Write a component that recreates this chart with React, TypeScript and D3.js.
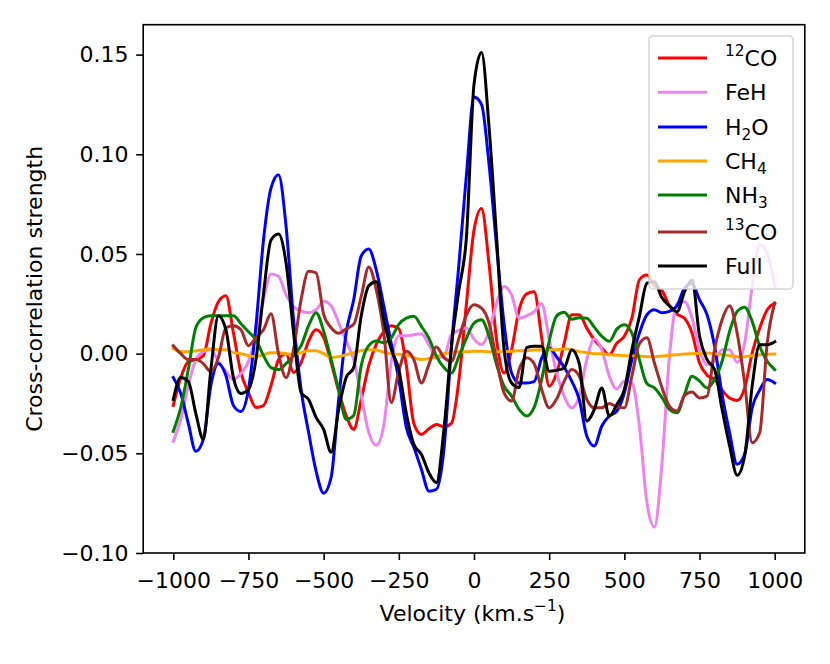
import * as d3 from 'd3';
import { useEffect, useRef } from 'react';

// velocity grid (km/s)
const velocity = [
  -1000, -975, -950, -925, -900, -875, -850, -825, -800, -775,
  -750, -725, -700, -675, -650, -625, -600, -575, -550, -525,
  -500, -475, -450, -425, -400, -375, -350, -325, -300, -275,
  -250, -225, -200, -175, -150, -125, -100, -75, -50, -25,
  0, 25, 50, 75, 100, 125, 150, 175, 200, 225,
  250, 275, 300, 325, 350, 375, 400, 425, 450, 475,
  500, 525, 550, 575, 600, 625, 650, 675, 700, 725,
  750, 775, 800, 825, 850, 875, 900, 925, 950, 975,
  1000,
];

const co12 = [
  -0.026, -0.012, -0.004, -0.003, -0.001, 0.015, 0.026, 0.029, 0.0105, -0.0095,
  -0.0195, -0.027, -0.026, -0.016, -0.003, 0, -0.0095, -0.0045, 0.0063, 0.012,
  0.008, -0.0045, -0.0187, -0.031, -0.038, -0.023, -0.006, 0.0047, 0.011, 0.014,
  0.0125, -0.006, -0.035, -0.0405, -0.0377, -0.0355, -0.0367, -0.035, -0.013, 0.0253,
  0.062, 0.0728, 0.045, 0.007, -0.0097, 0.002, 0.022, 0.03, 0.031, 0.008,
  -0.0163, -0.0097, 0.0053, 0.0195, 0.0195, 0.0128, 0.007, 0.0028, -0.0005, 0.0053,
  0.0087, 0.0178, 0.037, 0.0394, 0.034, 0.0317, 0.024, 0.0198, 0.0177, 0.0103,
  -0.0047, -0.0108, -0.013, -0.0183, -0.0223, -0.0235, -0.0172, 0.0003, 0.0128, 0.022,
  0.0253,
];

const feh = [
  -0.044, -0.033, -0.016, -0.003, 0.001, 0.002, -0.004, -0.009, -0.013, -0.01,
  -0.004, 0.009, 0.027, 0.04, 0.0388, 0.0295, 0.0237, 0.0213, 0.0205, 0.022,
  0.0263, 0.024, 0.0155, 0.0063, -0.003, -0.021, -0.0395, -0.046, -0.036, -0.004,
  0.009, 0.009, 0.0095, 0.01, 0.0045, -0.002, -0.0013, 0.0095, 0.0117, 0.0128,
  0.0073, 0.0045, 0.011, 0.0253, 0.0337, 0.0295, 0.0178, 0.019, 0.021, 0.025,
  0.0073, -0.0097, -0.0213, -0.0272, -0.0213, -0.003, 0.0073, 0.002, -0.0113, -0.0177,
  -0.0138, -0.0147, -0.0363, -0.0747, -0.087, -0.055, -0.0013, 0.025, 0.026, 0.0178,
  0.002, -0.0055, -0.0038, 0.002, 0.002, -0.0043, 0.0053, 0.0337, 0.0545, 0.0503,
  0.0337,
];

const h2o = [
  -0.012, -0.02, -0.035, -0.049, -0.043, -0.016, -0.005, -0.011, -0.026, -0.029,
  -0.018, 0.014, 0.057, 0.083, 0.0897, 0.064, 0.017, -0.018, -0.0395, -0.059,
  -0.07, -0.062, -0.023, 0.0105, 0.027, 0.049, 0.0525, 0.042, 0.024, 0.005,
  -0.013, -0.037, -0.047, -0.058, -0.069, -0.068, -0.048, 0.0037, 0.045, 0.09,
  0.1287, 0.125, 0.095, 0.054, 0.015, -0.0097, -0.0147, -0.0147, -0.014, -0.0022,
  0.0028, -0.0017, -0.0068, -0.0138, -0.023, -0.0413, -0.0463, -0.0363, -0.0313, -0.0288,
  -0.0197, -0.003, 0.0103, 0.0195, 0.022, 0.0205, 0.0212, 0.024, 0.0328, 0.035,
  0.027, 0.0195, 0.0037, -0.0205, -0.0397, -0.0555, -0.0505, -0.0272, -0.0183, -0.013,
  -0.0147,
];

const ch4 = [
  0.0025, 0.001, 0.001, 0.0015, 0.002, 0.0025, 0.002, 0.002, 0.0005, 0,
  -0.001, -0.0015, -0.0005, 0.0005, 0.0005, 0, -0.0005, 0.0005, 0.0015, 0.0015,
  0, -0.002, -0.0015, -0.0005, 0.0005, 0.0015, 0.002, 0.0018, 0.0008, 0,
  -0.0003, -0.0005, -0.002, -0.003, -0.0025, -0.0015, 0, 0.0005, 0.001, 0.001,
  0.0012, 0.0012, 0.001, 0.001, 0.001, 0.0012, 0.0015, 0.0015, 0.0018, 0.002,
  0.002, 0.002, 0.0025, 0.002, 0.001, 0.0005, 0, 0, -0.0005, -0.0008,
  -0.001, -0.001, -0.0012, -0.0015, -0.0015, -0.0012, -0.0008, -0.0005, -0.0002, 0,
  0.0002, 0.0003, 0, -0.0005, -0.001, -0.0015, -0.0015, -0.001, -0.0005, -0.0003,
  -0.0002,
];

const nh3 = [
  -0.039, -0.027, -0.008, 0.013, 0.018, 0.019, 0.019, 0.019, 0.019, 0.015,
  0.011, 0.007, -0.001, -0.007, -0.008, -0.005, -0.001, 0.004, 0.014, 0.0205,
  0.0113, -0.003, -0.018, -0.033, -0.031, -0.006, 0.004, 0.0063, 0.0055, 0.008,
  0.0147, 0.0178, 0.0187, 0.0137, 0.0078, -0.0013, -0.007, -0.0097, -0.0013, 0.0078,
  0.0153, 0.017, 0.0087, -0.0055, -0.0163, -0.0213, -0.028, -0.0313, -0.027, -0.013,
  0.0062, 0.019, 0.0207, 0.0173, 0.018, 0.0178, 0.0133, 0.0087, 0.0062, 0.0123,
  0.0145, 0.0103, -0.003, -0.015, -0.0172, -0.022, -0.028, -0.0297, -0.0205, -0.0113,
  -0.0138, -0.0172, -0.013, -0.0038, 0.0112, 0.0212, 0.0233, 0.0162, 0.0037, -0.0038,
  -0.008,
];

const co13 = [
  0.004, 0, -0.003, -0.003, -0.005, -0.009, -0.002, 0.013, 0.014, 0.012,
  0.004, 0.008, 0.012, 0.02, 0, -0.012, 0.002, 0.027, 0.0413, 0.0405,
  0.0197, 0.013, 0.0102, 0.0125, 0.0147, 0.0287, 0.0435, 0.032, 0.0105, -0.0245,
  -0.0087, 0.0012, -0.003, -0.0147, -0.0055, 0.0033, -0.002, -0.0038, 0.0078, 0.0195,
  0.0245, 0.0228, 0.0153, -0.003, -0.0197, -0.0238, -0.008, -0.002, -0.005, -0.018,
  -0.0272, -0.0227, -0.0138, -0.008, -0.0113, -0.023, -0.0272, -0.0272, -0.025, -0.0267,
  -0.0272, -0.0113, 0.005, 0.008, -0.0047, -0.017, -0.0263, -0.0288, -0.021, -0.0193,
  -0.0222, -0.0213, 0.002, 0.017, 0.024, 0.0103, -0.0147, -0.0447, -0.0397, 0.0053,
  0.0253,
];

const full = [
  -0.023, -0.012, -0.014, -0.03, -0.043, -0.008, 0.019, 0.012, -0.012, -0.02,
  -0.018, -0.003, 0.03, 0.057, 0.06, 0.0455, 0.0105, -0.0195, -0.023, -0.032,
  -0.038, -0.0495, -0.028, -0.012, -0.007, 0.019, 0.034, 0.036, 0.017, 0.002,
  -0.008, -0.03, -0.0455, -0.0505, -0.0597, -0.0647, -0.038, 0.0037, 0.032, 0.0587,
  0.135, 0.151, 0.1137, 0.0587, 0.002, -0.0147, -0.017, 0.003, 0.0037, 0.0037,
  -0.0088, -0.0083, -0.0072, 0.002, -0.005, -0.0338, -0.028, -0.0172, -0.0313, -0.0255,
  -0.018, 0.002, 0.0187, 0.0353, 0.036, 0.028, 0.024, 0.021, 0.031, 0.037,
  0.0087, -0.003, -0.008, -0.028, -0.0463, -0.061, -0.0513, -0.0163, 0.0045, 0.0045,
  0.006,
];

const xTicks = [-1000, -750, -500, -250, 0, 250, 500, 750, 1000];
const yTicks = [-0.1, -0.05, 0, 0.05, 0.1, 0.15];

// label pieces: s = superscript, b = subscript
type Piece = { t: string; s?: boolean; b?: boolean };
const series: { label: Piece[]; values: number[]; color: string }[] = [
  { label: [{ t: '12', s: true }, { t: 'CO' }], values: co12, color: '#ff0000' },
  { label: [{ t: 'FeH' }], values: feh, color: '#ee82ee' },
  { label: [{ t: 'H' }, { t: '2', b: true }, { t: 'O' }], values: h2o, color: '#0000ff' },
  { label: [{ t: 'CH' }, { t: '4', b: true }], values: ch4, color: '#ffa500' },
  { label: [{ t: 'NH' }, { t: '3', b: true }], values: nh3, color: '#008000' },
  { label: [{ t: '13', s: true }, { t: 'CO' }], values: co13, color: '#a52a2a' },
  { label: [{ t: 'Full' }], values: full, color: '#000000' },
];

const FONT = 'DejaVu Sans, Verdana, sans-serif';

export default function App() {
  const ref = useRef<SVGSVGElement | null>(null);

  useEffect(() => {
    if (!ref.current) return;
    const svg = d3.select(ref.current);
    svg.selectAll('*').remove();

    const left = 143.2, right = 804.8, top = 24.7, bottom = 553;
    const x = d3.scaleLinear().domain([-1100, 1100]).range([left, right]);
    const y = d3.scaleLinear().domain([-0.1, 0.165]).range([bottom, top]);

    svg.append('rect').attr('width', 830).attr('height', 664).attr('fill', '#fff');

    svg.append('clipPath').attr('id', 'plot-clip')
      .append('rect').attr('x', left).attr('y', top)
      .attr('width', right - left).attr('height', bottom - top);

    const line = d3.line<number>()
      .x((_, i) => x(velocity[i]))
      .y((d) => y(d))
      .curve(d3.curveMonotoneX);

    const lines = svg.append('g').attr('clip-path', 'url(#plot-clip)');
    series.forEach((s) => {
      lines.append('path')
        .attr('d', line(s.values))
        .attr('fill', 'none')
        .attr('stroke', s.color)
        .attr('stroke-width', 3)
        .attr('stroke-linejoin', 'round')
        .attr('stroke-linecap', 'square');
    });

    // Axes
    const xAxis = svg.append('g')
      .attr('transform', `translate(0,${bottom})`)
      .call(d3.axisBottom(x).tickValues(xTicks).tickFormat(d3.format('d'))
        .tickSize(7).tickSizeOuter(0).tickPadding(12.4));
    const yAxis = svg.append('g')
      .attr('transform', `translate(${left},0)`)
      .call(d3.axisLeft(y).tickValues(yTicks).tickFormat(d3.format('.2f'))
        .tickSize(7).tickSizeOuter(0).tickPadding(7.6));
    [xAxis, yAxis].forEach((a) => {
      a.select('.domain').remove();
      a.attr('color', '#000');
      a.selectAll('line').attr('stroke-width', 1.6);
      a.selectAll('text').attr('font-size', 22).attr('font-family', FONT).attr('fill', '#000');
    });

    svg.append('rect')
      .attr('x', left).attr('y', top)
      .attr('width', right - left).attr('height', bottom - top)
      .attr('fill', 'none').attr('stroke', '#000').attr('stroke-width', 1.6);

    // Axis labels
    const xl = svg.append('text')
      .attr('x', 472.5).attr('y', 621)
      .attr('text-anchor', 'middle')
      .attr('font-size', 22).attr('font-family', FONT);
    xl.append('tspan').text('Velocity (km.s');
    xl.append('tspan').attr('font-size', 15.4).attr('dy', -10).text('\u22121');
    xl.append('tspan').attr('dy', 10).text(')');

    svg.append('text')
      .attr('transform', `translate(42,${(top + bottom) / 2}) rotate(-90)`)
      .attr('text-anchor', 'middle')
      .attr('font-size', 22).attr('font-family', FONT)
      .text('Cross-correlation strength');

    // Legend
    const rowY = [58, 92.3, 127, 161, 195, 232, 266];
    const legend = svg.append('g');
    legend.append('rect')
      .attr('x', 649).attr('y', 36).attr('width', 144).attr('height', 253)
      .attr('rx', 4).attr('ry', 4)
      .attr('fill', '#fff').attr('fill-opacity', 0.8)
      .attr('stroke', '#cccccc').attr('stroke-opacity', 0.8).attr('stroke-width', 1.6);
    series.forEach((s, i) => {
      const ry = rowY[i];
      legend.append('line')
        .attr('x1', 658).attr('x2', 707).attr('y1', ry).attr('y2', ry)
        .attr('stroke', s.color).attr('stroke-width', 3);
      const t = legend.append('text')
        .attr('x', 725).attr('y', ry + 8)
        .attr('font-size', 22).attr('font-family', FONT).attr('fill', '#000');
      let shift = 0;
      s.label.forEach((p) => {
        const target = p.s ? -10.4 : p.b ? 4.5 : 0;
        const sp = t.append('tspan').attr('dy', target - shift).text(p.t);
        if (p.s || p.b) sp.attr('font-size', 15.4);
        shift = target;
      });
    });
  }, []);

  return (
    <svg
      ref={ref}
      width={830}
      height={664}
      style={{ position: 'absolute', left: 0, top: 0 }}
      role="img"
      aria-label="Cross-correlation strength vs velocity"
    />
  );
}
